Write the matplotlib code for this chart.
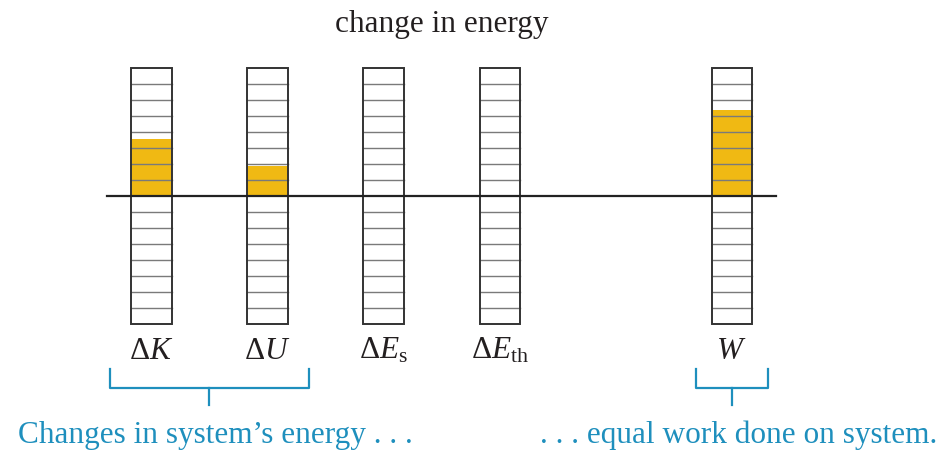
import numpy as np
import matplotlib.pyplot as plt
from matplotlib.patches import Rectangle

plt.rcParams['font.family'] = ['Liberation Serif', 'DejaVu Serif']
plt.rcParams['mathtext.fontset'] = 'custom'
plt.rcParams['mathtext.rm'] = 'Liberation Serif'
plt.rcParams['mathtext.it'] = 'Liberation Serif:italic'

# energy bar chart data (units = grid cells)
labels = [r'$\Delta K$', r'$\Delta U$', r'$\Delta E_{\rm s}$', r'$\Delta E_{\rm th}$', r'$W$']
positions = [0, 1, 2, 3, 5]
values = [3.55, 1.85, 0.0, 0.0, 5.4]
n_cells = 8

bar_color = '#F0B913'
blue = '#1E8FBD'
fs = 22.5

fig = plt.figure(figsize=(9.43, 4.52), dpi=100)
ax = fig.add_axes([0, 0, 1, 1])
ax.set_xlim(-1.306, 6.823)
ax.set_ylim(-15.94, 12.31)
ax.axis('off')

w = 0.345
for x, v in zip(positions, values):
    if v > 0:
        ax.add_patch(Rectangle((x - w / 2, 0), w, v, facecolor=bar_color,
                               edgecolor='none', zorder=1))
    for k in range(-n_cells + 1, n_cells):
        if k != 0:
            ax.plot([x - w / 2, x + w / 2], [k, k], color='#7a7a7a', lw=1.0, zorder=2)
    ax.add_patch(Rectangle((x - w / 2, -n_cells), w, 2 * n_cells, facecolor='none',
                           edgecolor='#333333', lw=1.4, zorder=3))

# zero line
ax.plot([-0.384, 5.383], [0, 0], color='#222222', lw=1.6, zorder=4)

for x, lab in zip(positions, labels):
    ax.text(x, -10.1, lab, ha='center', va='baseline', fontsize=fs, color='#231f20')

ax.text(2.5, 10.33, 'change in energy', ha='center', va='baseline', fontsize=fs,
        color='#231f20')

# brackets
def bracket(x0, x1):
    xc = (x0 + x1) / 2
    ax.plot([x0, x0, x1, x1], [-10.81, -12.0, -12.0, -10.81], color=blue, lw=1.6)
    ax.plot([xc, xc], [-12.0, -13.06], color=blue, lw=1.6)

bracket(-0.358, 1.357)
bracket(4.694, 5.315)

ax.text(-1.152, -15.4, 'Changes in system\u2019s energy . . .', ha='left', va='baseline',
        fontsize=fs, color=blue)
ax.text(6.77, -15.4, '. . . equal work done on system.', ha='right', va='baseline',
        fontsize=fs, color=blue)

fig.savefig('out.png', dpi=100)
